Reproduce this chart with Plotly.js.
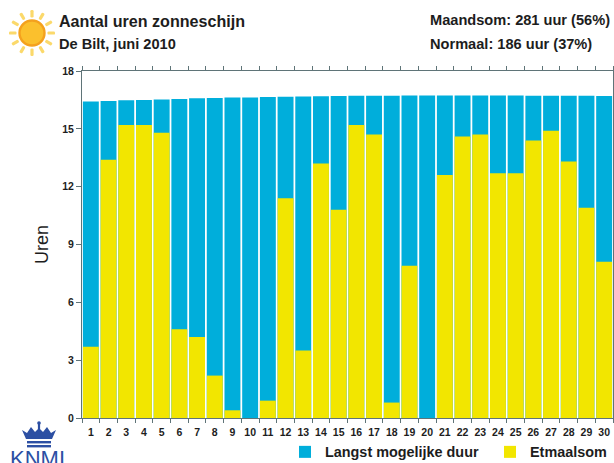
<!DOCTYPE html>
<html><head><meta charset="utf-8">
<script src="https://cdn.plot.ly/plotly-3.0.1.min.js"></script>
<style>html,body{margin:0;padding:0;background:#fff;overflow:hidden}#c{width:614px;height:463px}</style>
</head><body><div id="c"></div>
<script>
const days = ['1','2','3','4','5','6','7','8','9','10','11','12','13','14','15','16','17','18','19','20','21','22','23','24','25','26','27','28','29','30'];
const langst = [16.42,16.45,16.48,16.5,16.52,16.55,16.58,16.6,16.62,16.63,16.65,16.67,16.68,16.69,16.7,16.71,16.72,16.72,16.73,16.73,16.73,16.73,16.73,16.73,16.73,16.72,16.72,16.72,16.71,16.7];
const etmaal = [3.7,13.4,15.2,15.2,14.8,4.6,4.2,2.2,0.4,0,0.9,11.4,3.5,13.2,10.8,15.2,14.7,0.8,7.9,0,12.6,14.6,14.7,12.7,12.7,14.4,14.9,13.3,10.9,8.1];
const yTicks = [0,3,6,9,12,15,18];
const W = 614, H = 463, L = 82, R = 1, T = 71, B = 45;
const PW = W-L-R, PH = H-T-B;
const px = x => (x-L)/PW, py = y => (H-B-y)/PH;
const textCol = '#1d1d1d', axisCol = '#5f7478';
const font = {family:'"Liberation Sans", Arial, sans-serif', color:textCol};

let rays = '';
for (let a = 0; a < 360; a += 30) {
  rays += `<rect x="-1.6" y="-23" width="3.2" height="7.5" rx="1.2" fill="#FBD96B" transform="rotate(${a})"/>`;
}
const sun = `<svg xmlns="http://www.w3.org/2000/svg" width="48" height="48" viewBox="-24 -24 48 48">${rays}<circle r="12.5" fill="#FBC02D" stroke="#F4A11E" stroke-width="2.4"/></svg>`;
const crown = `<svg xmlns="http://www.w3.org/2000/svg" width="36" height="28" viewBox="0 0 36 28"><g fill="#2C4FA3"><circle cx="18" cy="2" r="1.8"/><rect x="16.9" y="2" width="2.2" height="6"/><path d="M1 9 L6 12 L10 6 L14 11 L18 7 L22 11 L26 6 L30 12 L35 9 L31 18 L5 18 Z"/><rect x="6" y="20" width="24" height="2.4"/><rect x="6" y="24" width="24" height="2.4"/></g></svg>`;
const uri = s => 'data:image/svg+xml;charset=utf-8,' + encodeURIComponent(s);

const traces = [
  {type:'bar', name:'Langst mogelijke duur', x:days, y:langst, marker:{color:'#00AEDB'}, legend:'legend', showlegend:true},
  {type:'bar', name:'Etmaalsom', x:days, y:etmaal, marker:{color:'#F2E600'}, legend:'legend2', showlegend:true}
];
const note = (text,x,y) => ({text, x:px(x), y:py(y), xref:'paper', yref:'paper', xanchor:'left', yanchor:'middle', showarrow:false, font:{...font,size:14.6,weight:700}});
const leg = (x) => ({orientation:'h', xref:'container', yref:'container', x:x/W, xanchor:'left', y:1-452/H, yanchor:'middle', bgcolor:'rgba(0,0,0,0)', font:{...font,size:14.4,weight:700}});
const layout = {
  width:W, height:H, paper_bgcolor:'#fff', plot_bgcolor:'#fff',
  margin:{l:L,r:R,t:T,b:B,pad:0,autoexpand:false},
  font:font, barmode:'overlay', bargap:0.1, showlegend:true,
  title:{text:'Aantal uren zonneschijn', x:59/W, xref:'container', yref:'container', xanchor:'left', y:1-21/H, yanchor:'middle', font:{...font,size:16.1,weight:700}},
  xaxis:{type:'category', categoryorder:'array', categoryarray:days, tickson:'boundaries', ticks:'outside', ticklen:4, ticklabelstandoff:4, tickcolor:axisCol, tickwidth:1, showline:true, linecolor:axisCol, linewidth:1, mirror:'ticks', showgrid:false, tickangle:0, tickfont:{...font,size:10.5,weight:700}},
  yaxis:{range:[0,18], tickvals:yTicks, ticks:'outside', ticklen:5, tickcolor:axisCol, showline:true, linecolor:axisCol, linewidth:1, mirror:true, showgrid:false, zeroline:false, tickfont:{...font,size:10.5,weight:700}, title:{text:'Uren', standoff:8, font:{...font,size:18}}},
  legend:leg(285), legend2:leg(490),
  annotations:[
    note('De Bilt, juni 2010',57,44),
    note('Maandsom: 281 uur (56%)',428,20),
    note('Normaal: 186 uur (37%)',428,44),
    {text:'KNMI', x:px(37), y:py(458), xref:'paper', yref:'paper', xanchor:'center', yanchor:'middle', showarrow:false, font:{...font,size:22,color:'#2C4FA3'}}
  ],
  images:[
    {source:uri(sun), xref:'paper', yref:'paper', x:px(8), y:py(9), sizex:48/PW, sizey:48/PH, xanchor:'left', yanchor:'top', sizing:'contain', layer:'above'},
    {source:uri(crown), xref:'paper', yref:'paper', x:px(21), y:py(421), sizex:36/PW, sizey:28/PH, xanchor:'left', yanchor:'top', sizing:'contain', layer:'above'}
  ]
};
Plotly.newPlot('c', traces, layout, {displayModeBar:false, staticPlot:true});
</script></body></html>
